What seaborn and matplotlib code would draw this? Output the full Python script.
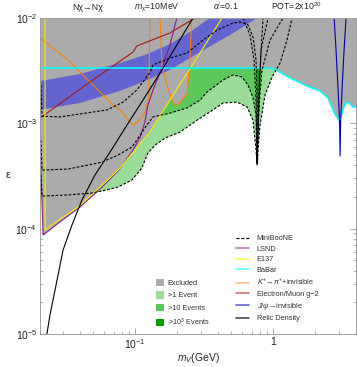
import numpy as np
import matplotlib
matplotlib.use("Agg")
import matplotlib.pyplot as plt
import seaborn as sns
from matplotlib.lines import Line2D
from matplotlib.patches import Patch
from matplotlib.ticker import FixedLocator, FixedFormatter, NullFormatter

# ---------------- data (mV in GeV, epsilon) ----------------
babar_x = [0.0205, 0.951, 1.051, 1.181, 1.373, 1.763, 2.19, 2.50, 2.68, 2.86, 3.03, 3.16, 3.32, 3.44, 3.61, 3.80, 3.99]
babar_y = [3.35e-3, 3.35e-3, 3.21e-3, 2.94e-3, 2.64e-3, 2.26e-3, 2.03e-3, 1.74e-3, 1.40e-3, 1.17e-3, 1.05e-3, 1.25e-3, 1.53e-3, 1.59e-3, 1.53e-3, 1.43e-3, 1.43e-3]

e137_x = [0.0223, 0.0223, 0.0286, 0.0386, 0.0557, 0.0753, 0.100, 0.128, 0.195, 0.296, 0.427]
e137_y = [1e-2, 9.70e-5, 1.23e-4, 1.60e-4, 2.48e-4, 3.60e-4, 5.57e-4, 8.26e-4, 1.98e-3, 4.65e-3, 1e-2]

lsnd_x = [0.0205, 0.0205, 0.0208, 0.0216, 0.0286, 0.0399, 0.0557, 0.0753, 0.0968, 0.109, 0.118, 0.124, 0.135, 0.160, 0.179, 0.201]
lsnd_y = [1e-2, 1.07e-3, 3.60e-4, 8.70e-5, 1.16e-4, 1.60e-4, 2.38e-4, 3.52e-4, 5.57e-4, 7.41e-4, 1.03e-3, 1.49e-3, 2.07e-3, 3.58e-3, 5.54e-3, 1e-2]

kaon1_x = [0.0205, 0.0327, 0.0472, 0.0659, 0.0778, 0.0875, 0.0968, 0.105, 0.118, 0.126, 0.127, 0.128]
kaon1_y = [6.46e-3, 3.99e-3, 2.47e-3, 1.59e-3, 1.34e-3, 1.12e-3, 9.64e-4, 1.03e-3, 1.28e-3, 1.74e-3, 3.99e-3, 1e-2]
kaon2_x = [0.152, 0.154, 0.157, 0.171, 0.185, 0.195, 0.212, 0.223, 0.238, 0.242, 0.250, 0.255, 0.257]
kaon2_y = [1e-2, 6.18e-3, 3.58e-3, 2.31e-3, 1.66e-3, 1.49e-3, 1.56e-3, 1.74e-3, 1.86e-3, 2.47e-3, 4.17e-3, 7.36e-3, 1e-2]

g2_x = [0.0205, 0.0472, 0.0968, 0.103, 0.179, 0.272]
g2_y = [1.12e-3, 2.47e-3, 4.75e-3, 5.42e-3, 7.21e-3, 1e-2]

relic_x = [0.0230, 0.0242, 0.0259, 0.0277, 0.0301, 0.0349, 0.0413, 0.0513, 0.0659, 0.0875, 0.118, 0.152, 0.195, 0.263]
relic_y = [1e-5, 1.51e-5, 2.34e-5, 3.62e-5, 6.26e-5, 1.08e-4, 1.87e-4, 3.23e-4, 5.33e-4, 9.64e-4, 1.78e-3, 3.01e-3, 5.19e-3, 1e-2]

jpsi_x = [2.77, 2.86, 2.96, 3.03, 3.06, 3.09, 3.16, 3.27, 3.38]
jpsi_y = [1e-2, 4.97e-3, 2.07e-3, 1.07e-3, 4.89e-4, 1.07e-3, 2.07e-3, 4.97e-3, 1e-2]

band_up_x = [0.0205, 0.0399, 0.0778, 0.118, 0.179, 0.250, 0.349]
band_up_y = [2.52e-3, 2.94e-3, 3.74e-3, 4.45e-3, 5.66e-3, 7.36e-3, 1e-2]
band_lo_x = [0.0205, 0.0399, 0.0778, 0.118, 0.179, 0.296, 0.488, 0.766]
band_lo_y = [1.34e-3, 1.56e-3, 2.03e-3, 2.52e-3, 3.21e-3, 4.75e-3, 6.90e-3, 1e-2]

# MiniBooNE event contours
ev1_x = [0.0208, 0.0212, 0.0327, 0.0488, 0.0577, 0.0753, 0.0951, 0.112, 0.124, 0.140, 0.165, 0.212, 0.281, 0.367, 0.434, 0.548, 0.648, 0.716, 0.753, 0.766, 0.778, 0.805, 0.875, 0.984, 1.124, 1.263, 1.373]
ev1_y = [3.23e-4, 2.04e-4, 2.09e-4, 2.18e-4, 2.28e-4, 2.48e-4, 2.90e-4, 3.76e-4, 5.22e-4, 6.22e-4, 7.25e-4, 8.26e-4, 1.07e-3, 1.34e-3, 1.56e-3, 1.59e-3, 1.43e-3, 1.07e-3, 5.57e-4, 4.02e-4, 5.57e-4, 9.64e-4, 1.86e-3, 2.75e-3, 3.74e-3, 6.18e-3, 1e-2]
ev10_x = [0.0208, 0.0212, 0.0327, 0.0577, 0.0753, 0.0951, 0.109, 0.122, 0.135, 0.179, 0.238, 0.296, 0.332, 0.434, 0.513, 0.596, 0.659, 0.716, 0.753, 0.766, 0.778, 0.798, 0.832, 0.951, 1.181]
ev10_y = [6.94e-4, 3.60e-4, 3.68e-4, 4.28e-4, 5.00e-4, 5.96e-4, 7.74e-4, 9.64e-4, 1.15e-3, 1.25e-3, 1.40e-3, 1.66e-3, 1.98e-3, 2.58e-3, 2.88e-3, 2.75e-3, 2.31e-3, 1.74e-3, 1.20e-3, 4.19e-4, 8.63e-4, 1.66e-3, 3.21e-3, 6.18e-3, 1e-2]
ev1000_x = [0.0208, 0.0212, 0.0286, 0.0356, 0.0627, 0.0819, 0.103, 0.128, 0.135, 0.179, 0.238, 0.311, 0.393, 0.513, 0.577, 0.659, 0.716, 0.753, 0.766, 0.772, 0.785, 0.819, 0.920]
ev1000_y = [2.31e-3, 1.17e-3, 1.15e-3, 1.20e-3, 1.34e-3, 1.59e-3, 2.07e-3, 3.01e-3, 3.58e-3, 4.17e-3, 4.65e-3, 6.18e-3, 7.69e-3, 8.96e-3, 9.16e-3, 8.59e-3, 6.60e-3, 3.99e-3, 1.66e-3, 4.19e-4, 1.66e-3, 4.97e-3, 1e-2]
evtop_x = [0.606, 0.681, 0.728, 0.753, 0.766, 0.792, 0.819, 0.847]
evtop_y = [1e-2, 6.90e-3, 3.99e-3, 1.66e-3, 4.19e-4, 1.66e-3, 4.97e-3, 1e-2]

header_texts = ["N\u03c7\u2192N\u03c7", r"$m_\chi$=10MeV", r"$\alpha'$=0.1", r"POT=2x10$^{20}$"]
area_labels = ["Excluded", ">1 Event", ">10 Events", r">10$^3$ Events"]
line_labels = ["MiniBooNE", "LSND", "E137", "BaBar", r"$K^{+}\!\rightarrow\!\pi^{+}$+invisible",
               "Electron/Muon g\u22122", r"$J/\psi$" + "\u2192invisible", "Relic Density"]
x_ticks = [0.1, 1.0]
x_ticklabels = [r"$10^{-1}$", "1"]
y_ticks = [1e-5, 1e-4, 1e-3, 1e-2]
y_ticklabels = [r"$10^{-5}$", r"$10^{-4}$", r"$10^{-3}$", r"$10^{-2}$"]

# ---------------- style ----------------
sns.set_theme(style="ticks")
plt.rcParams['font.family'] = ['Liberation Sans', 'DejaVu Sans']
plt.rcParams['mathtext.fontset'] = 'custom'
plt.rcParams['mathtext.rm'] = 'Liberation Sans'
plt.rcParams['mathtext.it'] = 'Liberation Sans:italic'
plt.rcParams['mathtext.bf'] = 'Liberation Sans:bold'
plt.rcParams['mathtext.sf'] = 'Liberation Sans'

GRAY = '#ababab'
LIGHT = '#98dc98'
MED = '#5cc85c'
DARK = '#00a000'
BAND = '#6464d0'
C_LSND = '#8e1a8e'
C_E137 = '#f2ee00'
C_BABAR = '#00ffff'
C_K = '#ff8000'
C_G2 = '#aa1515'
C_JPSI = '#0000aa'
C_RELIC = 'black'
YTOP = 1e-2

fig = plt.figure(figsize=(3.57, 3.67), dpi=100)
ax = fig.add_axes([40 / 357, 33 / 367, 316 / 357, 316 / 367])
ax.set_xscale('log')
ax.set_yscale('log')
ax.set_xlim(0.0205, 3.99)
ax.set_ylim(1e-5, 1e-2)


def top_closed(x, y):
    return np.r_[x[0], x], np.r_[YTOP, y]


# event regions
ax.fill(*top_closed(ev1_x, ev1_y), color=LIGHT, lw=0, zorder=1)
ax.fill(*top_closed(ev10_x, ev10_y), color=MED, lw=0, zorder=1.1)
ax.fill(*top_closed(ev1000_x, ev1000_y), color=DARK, lw=0, zorder=1.2)

# excluded regions
ax.fill_between(babar_x, babar_y, YTOP, color=GRAY, lw=0, zorder=2)
ax.fill(lsnd_x, lsnd_y, color=GRAY, lw=0, zorder=2)
ax.fill(e137_x, e137_y, color=GRAY, lw=0, zorder=2)
ax.fill(kaon2_x, kaon2_y, color=GRAY, lw=0, zorder=2)

# g-2 favoured band
ax.fill(np.r_[band_up_x, band_lo_x[::-1]], np.r_[band_up_y, band_lo_y[::-1]],
        color=BAND, lw=0, zorder=3)


def line(x, y, color, lw=0.8, ls='-', z=4):
    sns.lineplot(x=x, y=y, sort=False, estimator=None, ax=ax, color=color,
                 linewidth=lw, linestyle=ls, legend=False, zorder=z)


DASH = (0, (2.4, 1.5))
for cx, cy in [(ev1_x, ev1_y), (ev10_x, ev10_y), (ev1000_x, ev1000_y), (evtop_x, evtop_y)]:
    line(cx, cy, 'black', lw=0.8, ls=DASH, z=5)

line(kaon1_x, kaon1_y, C_K)
line(kaon2_x, kaon2_y, C_K)
line(g2_x, g2_y, C_G2)
line(lsnd_x, lsnd_y, C_LSND)
line(e137_x, e137_y, C_E137)
line(babar_x, babar_y, C_BABAR, lw=1.1)
line(jpsi_x, jpsi_y, C_JPSI)
line(relic_x, relic_y, C_RELIC)

# ---------------- axes / ticks ----------------
ax.set_xlabel('')
ax.set_ylabel('')
ax.xaxis.set_major_locator(FixedLocator(x_ticks))
ax.xaxis.set_major_formatter(FixedFormatter(x_ticklabels))
ax.xaxis.set_minor_locator(FixedLocator([0.03, 0.04, 0.05, 0.06, 0.07, 0.08, 0.09,
                                         0.2, 0.3, 0.4, 0.5, 0.6, 0.7, 0.8, 0.9, 2, 3]))
ax.xaxis.set_minor_formatter(NullFormatter())
ax.yaxis.set_major_locator(FixedLocator(y_ticks))
ax.yaxis.set_major_formatter(FixedFormatter(y_ticklabels))
ax.yaxis.set_minor_locator(FixedLocator([m * d for d in (1e-5, 1e-4, 1e-3) for m in range(2, 10)]))
ax.yaxis.set_minor_formatter(NullFormatter())
ax.tick_params(which='both', direction='in', top=True, right=True, color='#9a9a9a',
               labelsize=7.5, labelcolor='#222222', pad=2)
ax.tick_params(which='major', length=4.5, width=0.6)
ax.tick_params(which='minor', length=2.5, width=0.5)
for s in ax.spines.values():
    s.set_color('#a0a0a0')
    s.set_linewidth(0.7)
    s.set_zorder(10)

fig.text(8 / 357, 1 - 175 / 367, "\u03b5", fontsize=8, ha='center', va='center')
fig.text(198 / 357, 1 - 358 / 367, r"$m_V$(GeV)", fontsize=7.5, ha='center', va='center')

for cx, t in zip([88, 157, 226, 296], header_texts):
    fig.text(cx / 357, 1 - 10 / 367, t, fontsize=6.3, ha='center', va='baseline')

# ---------------- legends ----------------
area_handles = [Patch(facecolor=c, edgecolor='none') for c in (GRAY, LIGHT, MED, DARK)]
line_handles = [
    Line2D([], [], color='black', lw=0.9, linestyle=DASH),
    Line2D([], [], color=C_LSND, lw=1.2, alpha=0.6),
    Line2D([], [], color=C_E137, lw=1.2, alpha=0.6),
    Line2D([], [], color=C_BABAR, lw=1.2, alpha=0.6),
    Line2D([], [], color=C_K, lw=1.2, alpha=0.5),
    Line2D([], [], color=C_G2, lw=1.2, alpha=0.6),
    Line2D([], [], color=C_JPSI, lw=1.2, alpha=0.6),
    Line2D([], [], color=C_RELIC, lw=1.2, alpha=0.7),
]
leg2 = ax.legend(line_handles, line_labels, loc='upper left',
                 bbox_to_anchor=((236 - 40) / 316, (334 - 235) / 316),
                 fontsize=5.3, handlelength=1.8, handletextpad=1.0, labelspacing=0.45,
                 borderpad=0, borderaxespad=0, frameon=False)
for t in leg2.get_texts():
    t.set_color('#333333')
leg1 = ax.legend(area_handles, area_labels, loc='upper left',
                 bbox_to_anchor=((156 - 40) / 316, (334 - 279) / 316),
                 fontsize=5.3, handlelength=1.1, handleheight=1.1, handletextpad=0.5,
                 labelspacing=0.6, borderpad=0, borderaxespad=0, frameon=False)
for t in leg1.get_texts():
    t.set_color('#333333')
ax.add_artist(leg2)

fig.savefig("out.png", dpi=100)
